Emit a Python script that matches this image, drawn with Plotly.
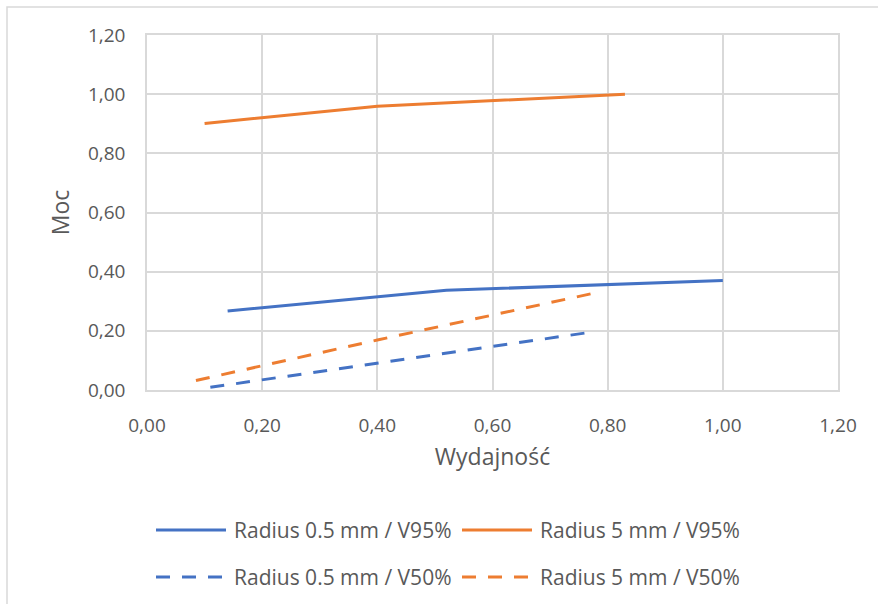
import plotly.graph_objects as go

# Wydajność (x) and Moc (y) for each radius / isodose combination
r05_v95_x = [0.14, 0.52, 1.00]
r05_v95_y = [0.267, 0.337, 0.370]
r5_v95_x = [0.10, 0.40, 0.83]
r5_v95_y = [0.901, 0.959, 1.000]
r05_v50_x = [0.11, 0.40, 0.78]
r05_v50_y = [0.009, 0.090, 0.198]
r5_v50_x = [0.085, 0.40, 0.78]
r5_v50_y = [0.032, 0.169, 0.329]

names = [
    "Radius 0.5 mm / V95%",
    "Radius 5 mm / V95%",
    "Radius 0.5 mm / V50%",
    "Radius 5 mm / V50%",
]
axis_ticks = [0.0, 0.2, 0.4, 0.6, 0.8, 1.0, 1.2]

BLUE = "#4472C4"
ORANGE = "#ED7D31"
GRID = "#D9D9D9"
TEXT = "#595959"
FONT = "Open Sans, Liberation Sans, sans-serif"
DASH = "14px,12px"

series = [
    (r05_v95_x, r05_v95_y, names[0], BLUE, "solid"),
    (r5_v95_x, r5_v95_y, names[1], ORANGE, "solid"),
    (r05_v50_x, r05_v50_y, names[2], BLUE, DASH),
    (r5_v50_x, r5_v50_y, names[3], ORANGE, DASH),
]

fig = go.Figure()
for xs, ys, name, color, dash in series:
    fig.add_trace(go.Scatter(
        x=xs, y=ys, name=name, mode="lines",
        line=dict(color=color, width=3, dash=dash),
        showlegend=False,
    ))

axis_common = dict(
    range=[0, 1.2],
    tickvals=axis_ticks,
    tickformat=".2f",
    showgrid=True,
    gridcolor=GRID,
    gridwidth=1.5,
    showline=True,
    linecolor=GRID,
    linewidth=1.5,
    mirror=True,
    zeroline=False,
    automargin=False,
    tickfont=dict(family=FONT, size=19, color=TEXT),
    ticks="",
)

fig.update_xaxes(
    **axis_common,
    title=dict(text="Wydajność", font=dict(family=FONT, size=23, color=TEXT), standoff=12),
    ticklabelstandoff=17,
)
fig.update_yaxes(
    **axis_common,
    title=dict(text="Moc", font=dict(family=FONT, size=23, color=TEXT), standoff=12),
    ticklabelstandoff=16,
)

# Plot area in pixels, used to place the legend in paper coordinates
L, R, T, B, W, H = 147, 40, 35, 214, 878, 604
PW, PH = W - L - R, H - T - B


def px_x(px):
    return (px - L) / PW


def px_y(py):
    return (H - B - py) / PH


shapes = [
    # chart-area border
    dict(
        type="rect", xref="paper", yref="paper",
        x0=px_x(7), x1=px_x(884), y0=px_y(612), y1=px_y(7),
        line=dict(color=GRID, width=1.5),
        fillcolor="rgba(0,0,0,0)",
        layer="below",
    )
]
annotations = []

# two-column legend beneath the plot
legend_slots = [(156, 530), (462, 530), (156, 577), (462, 577)]
swatch_len = 70
for (lx, ly), (_, _, name, color, dash) in zip(legend_slots, series):
    shapes.append(dict(
        type="line", xref="paper", yref="paper",
        x0=px_x(lx), x1=px_x(lx + swatch_len), y0=px_y(ly), y1=px_y(ly),
        line=dict(color=color, width=3, dash=dash),
    ))
    annotations.append(dict(
        xref="paper", yref="paper",
        x=px_x(lx + swatch_len + 6), y=px_y(ly),
        xanchor="left", yanchor="middle",
        text=name, showarrow=False,
        font=dict(family=FONT, size=21, color=TEXT),
    ))

fig.update_layout(
    width=W,
    height=H,
    margin=dict(l=L, r=R, t=T, b=B),
    paper_bgcolor="white",
    plot_bgcolor="white",
    separators=", ",
    showlegend=False,
    shapes=shapes,
    annotations=annotations,
)

fig.write_html("out.html")
